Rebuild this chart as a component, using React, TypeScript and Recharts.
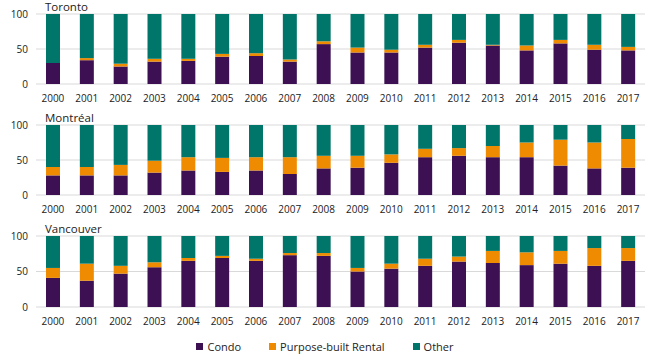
import { Bar, BarChart, CartesianGrid, XAxis, YAxis } from "recharts";

const years = ["2000", "2001", "2002", "2003", "2004", "2005", "2006", "2007", "2008", "2009", "2010", "2011", "2012", "2013", "2014", "2015", "2016", "2017"];

const torontoCondo = [30, 34, 25, 32, 33, 39, 40, 32, 57, 45, 45, 52, 59, 55, 48, 58, 49, 48];
const torontoRental = [0, 3, 4, 4, 3, 4, 4, 3, 4, 7, 4, 4, 4, 1, 7, 5, 7, 5];
const torontoOther = [70, 63, 71, 64, 64, 57, 56, 65, 39, 48, 51, 44, 37, 44, 45, 37, 44, 47];

const montrealCondo = [28, 28, 28, 32, 35, 33, 35, 30, 38, 39, 46, 54, 56, 54, 54, 42, 38, 39];
const montrealRental = [12, 12, 15, 17, 19, 20, 19, 24, 18, 17, 12, 12, 11, 16, 21, 37, 37, 41];
const montrealOther = [60, 60, 57, 51, 46, 47, 46, 46, 44, 44, 42, 34, 33, 30, 25, 21, 25, 20];

const vancouverCondo = [41, 37, 47, 56, 65, 69, 65, 73, 72, 50, 54, 58, 64, 62, 59, 61, 58, 65];
const vancouverRental = [14, 24, 11, 7, 4, 3, 3, 3, 4, 5, 7, 10, 7, 17, 18, 18, 25, 18];
const vancouverOther = [45, 39, 42, 37, 31, 28, 32, 24, 24, 45, 39, 32, 29, 21, 23, 21, 17, 17];

const seriesNames = ["Condo", "Purpose-built Rental", "Other"];
const colors = ["#3c1053", "#ee8b00", "#00756a"];

const font = "'Open Sans', sans-serif";

function rows(condo: number[], rental: number[], other: number[]) {
  return years.map((year, i) => ({ year, condo: condo[i], rental: rental[i], other: other[i] }));
}

function CityChart({ title, data, top, height }: { title: string; data: any[]; top: number; height: number }) {
  return (
    <div style={{ position: "absolute", left: 0, top, width: 650, height }}>
      <div
        style={{
          position: "absolute",
          left: 45,
          top: 0,
          fontSize: 11.5,
          fontFamily: font,
          color: "#222",
          lineHeight: "14px",
        }}
      >
        {title}
      </div>
      <BarChart width={650} height={height} data={data} margin={{ top: 14, right: 5, bottom: 0, left: 0 }} barSize={14}>
        <CartesianGrid vertical={false} stroke="#d9d9d9" />
        <XAxis
          dataKey="year"
          axisLine={false}
          tickLine={false}
          tickMargin={5}
          height={26}
          interval={0}
          tick={{ fontSize: 10, fontFamily: font, fill: "#222" }}
        />
        <YAxis
          domain={[0, 100]}
          ticks={[0, 50, 100]}
          width={36}
          axisLine={false}
          tickLine={false}
          tick={{ fontSize: 10, fontFamily: font, fill: "#222" }}
        />
        <Bar dataKey="condo" stackId="a" fill={colors[0]} isAnimationActive={false} />
        <Bar dataKey="rental" stackId="a" fill={colors[1]} isAnimationActive={false} />
        <Bar dataKey="other" stackId="a" fill={colors[2]} isAnimationActive={false} />
      </BarChart>
    </div>
  );
}

export default function App() {
  return (
    <div style={{ position: "absolute", left: 0, top: 0, width: 650, height: 360, background: "#fff" }}>
      <CityChart title="Toronto" top={0} height={110} data={rows(torontoCondo, torontoRental, torontoOther)} />
      <CityChart title="Montréal" top={111} height={110} data={rows(montrealCondo, montrealRental, montrealOther)} />
      <CityChart title="Vancouver" top={222} height={111} data={rows(vancouverCondo, vancouverRental, vancouverOther)} />
      <div
        style={{
          position: "absolute",
          top: 339,
          left: 0,
          width: 650,
          display: "flex",
          justifyContent: "center",
          fontFamily: font,
          fontSize: 11,
          color: "#222",
        }}
      >
        {seriesNames.map((name, i) => (
          <div key={name} style={{ display: "flex", alignItems: "center", marginRight: i < 2 ? 28 : 0 }}>
            <span style={{ display: "inline-block", width: 7, height: 7, background: colors[i], marginRight: 4 }} />
            <span>{name}</span>
          </div>
        ))}
      </div>
    </div>
  );
}
